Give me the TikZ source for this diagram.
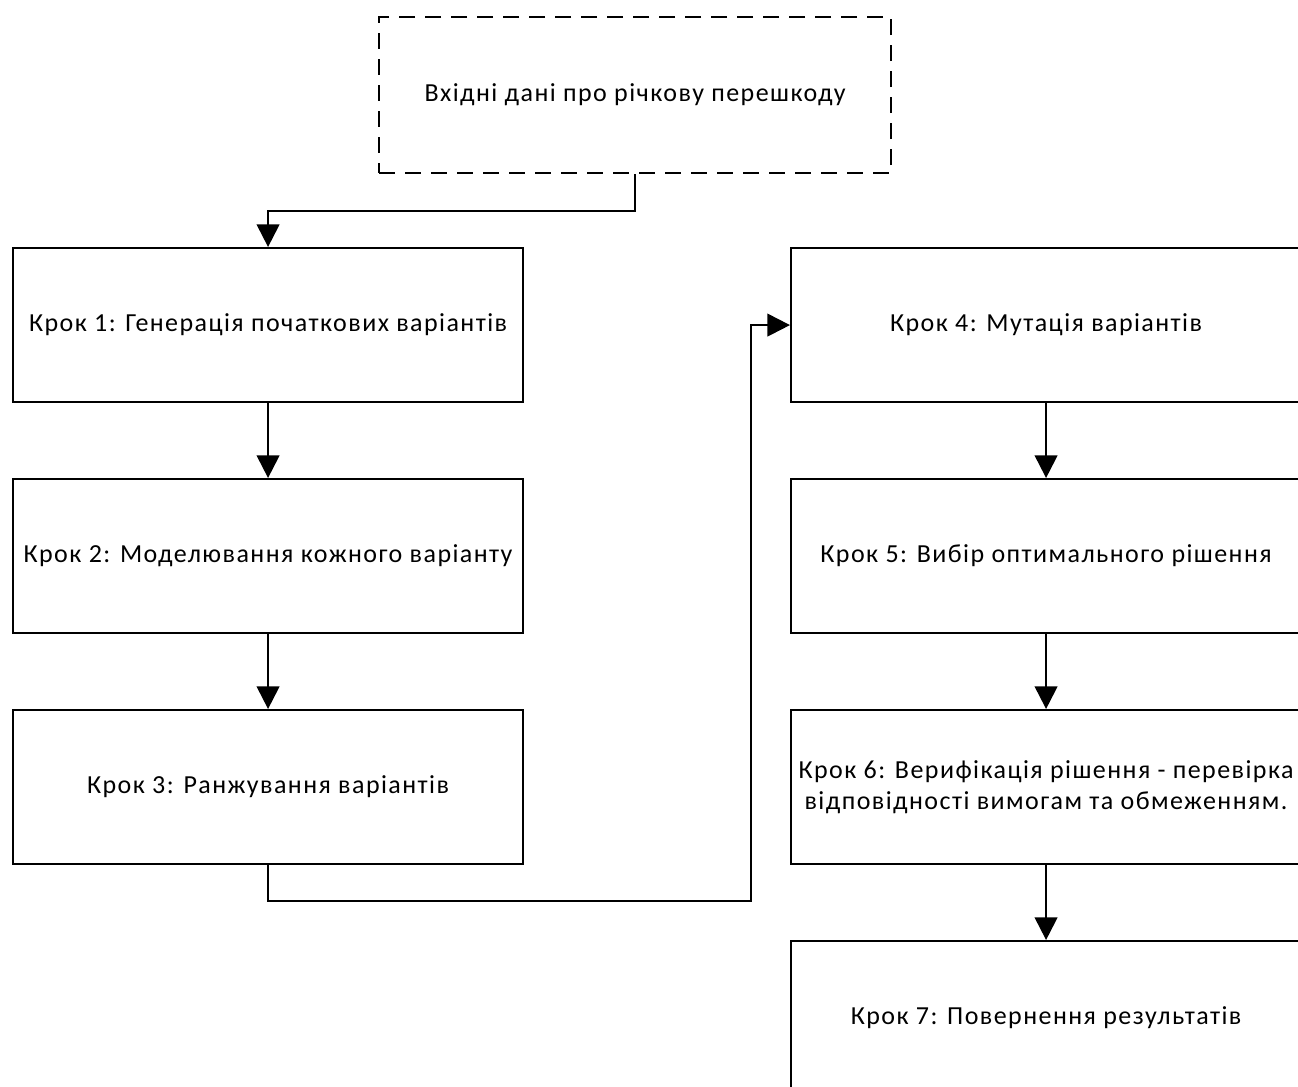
\documentclass[tikz,border=0pt]{standalone}
\usepackage{fontspec}
\setmainfont{Carlito}[LetterSpace=5.5]
\usetikzlibrary{arrows.meta}
\begin{document}
\begin{tikzpicture}[x=0.75pt,y=-0.75pt,
  every node/.style={font=\fontsize{19.5}{23.5}\selectfont},
  stepbox/.style={draw=black,line width=1.6pt,minimum width=382.5pt,minimum height=115.5pt,inner sep=0pt,align=center,anchor=north west},
  inbox/.style={stepbox,dashed,dash pattern=on 12pt off 7.5pt,minimum width=384pt,minimum height=117pt},
  link/.style={line width=1.6pt,-{Triangle[length=17pt,width=17pt]}}]
\useasboundingbox (0,0) rectangle (1298,1086);
\begin{scope}
\clip (0,0) rectangle (1298,1086);
% input data
\node[inbox] (in) at (378,16) {Вхідні дані про річкову перешкоду};
% left column
\node[stepbox] (s1) at (12,247) {Крок 1: Генерація початкових варіантів};
\node[stepbox] (s2) at (12,478) {Крок 2: Моделювання кожного варіанту};
\node[stepbox] (s3) at (12,709) {Крок 3: Ранжування варіантів};
% right column
\node[stepbox] (s4) at (790,247) {Крок 4: Мутація варіантів};
\node[stepbox] (s5) at (790,478) {Крок 5: Вибір оптимального рішення};
\node[stepbox] (s6) at (790,709) {Крок 6: Верифікація рішення - перевірка\\відповідності вимогам та обмеженням.};
\node[stepbox] (s7) at (790,940) {Крок 7: Повернення результатів};
% connectors
\draw[link] (in.south) |- ++(0,37) -| (s1.north);
\draw[link] (s1) -- (s2);
\draw[link] (s2) -- (s3);
\coordinate (turn) at (751,901);
\draw[link] (s3.south) |- (turn) |- (s4.west);
\draw[link] (s4) -- (s5);
\draw[link] (s5) -- (s6);
\draw[link] (s6) -- (s7);
\end{scope}
\end{tikzpicture}
\end{document}
